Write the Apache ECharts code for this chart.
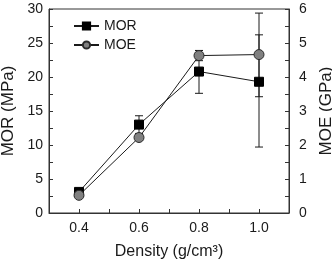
<!DOCTYPE html>
<html>
<head>
<meta charset="utf-8">
<script src="https://cdn.jsdelivr.net/npm/echarts@6/dist/echarts.min.js"></script>
<style>
  html, body { margin: 0; padding: 0; background: #fff; }
  #chart { width: 332px; height: 259px; }
</style>
</head>
<body>
<div id="chart"></div>
<script>
  // density (g/cm3)
  const density = [0.4, 0.6, 0.8, 1.0]
  // MOR (MPa) with error bar ends
  const mor = [3.1, 13.0, 20.8, 19.3]
  const morLow = [2.8, 11.7, 17.6, 9.7]
  const morHigh = [3.4, 14.3, 23.9, 29.4]
  // MOE (GPa) with error bar ends
  const moe = [0.52, 2.22, 4.63, 4.66]
  const moeLow = [0.47, 2.15, 4.48, 3.42]
  const moeHigh = [0.57, 2.29, 4.78, 5.24]
  const xLabels = ['0.4', '0.6', '0.8', '1.0']

  const font = 'Liberation Sans, Arial, sans-serif'
  const ink = '#1a1a1a'

  function pairs(xs, ys) {
    return xs.map((x, i) => [x, ys[i]])
  }
  function bars(xs, lo, hi) {
    return xs.map((x, i) => [x, lo[i], hi[i]])
  }

  // vertical error bar with caps
  function errorBar(params, api) {
    let x = api.value(0)
    let pLo = api.coord([x, api.value(1)])
    let pHi = api.coord([x, api.value(2)])
    let w = 4
    let style = { stroke: ink, lineWidth: 1 }
    return {
      type: 'group',
      children: [
        { type: 'line', shape: { x1: pLo[0], y1: pLo[1], x2: pHi[0], y2: pHi[1] }, style: style },
        { type: 'line', shape: { x1: pLo[0] - w, y1: pLo[1], x2: pLo[0] + w, y2: pLo[1] }, style: style },
        { type: 'line', shape: { x1: pHi[0] - w, y1: pHi[1], x2: pHi[0] + w, y2: pHi[1] }, style: style }
      ]
    }
  }

  let myChart = echarts.init(document.getElementById('chart'))
  myChart.setOption({
    animation: false,
    textStyle: { fontFamily: font, color: ink },
    grid: {
      left: 49,
      right: 43,
      top: 9,
      bottom: 46,
      outerBoundsMode: 'none',
      show: true,
      borderColor: '#333',
      borderWidth: 1
    },
    legend: {
      orient: 'vertical',
      left: 68,
      top: 14,
      itemWidth: 25,
      itemHeight: 9,
      itemGap: 5,
      textStyle: { fontSize: 14, color: ink, fontFamily: font },
      data: ['MOR', 'MOE']
    },
    xAxis: {
      type: 'value',
      min: 0.3,
      max: 1.1,
      interval: 0.1,
      name: 'Density (g/cm³)',
      nameLocation: 'middle',
      nameGap: 31,
      nameTextStyle: { fontSize: 16, color: ink },
      splitLine: { show: false },
      axisLine: { lineStyle: { color: '#333' } },
      axisTick: { inside: true, length: 4, lineStyle: { color: '#333' } },
      axisLabel: {
        fontSize: 14,
        color: ink,
        margin: 8,
        formatter: function(v) {
          let s = v.toFixed(1)
          return xLabels.indexOf(s) >= 0 ? s : ''
        }
      }
    },
    yAxis: [{
      type: 'value',
      min: 0,
      max: 30,
      interval: 5,
      name: 'MOR (MPa)',
      nameLocation: 'middle',
      nameGap: 26,
      nameTextStyle: { fontSize: 17, color: ink },
      splitLine: { show: false },
      axisLine: { show: true, lineStyle: { color: '#333' } },
      axisTick: { inside: true, length: 4, lineStyle: { color: '#333' } },
      minorTick: { show: true, splitNumber: 2, length: 4, lineStyle: { color: '#333' } },
      axisLabel: { fontSize: 14, color: ink, margin: 6 }
    }, {
      type: 'value',
      min: 0,
      max: 6,
      interval: 1,
      name: 'MOE (GPa)',
      nameLocation: 'middle',
      nameGap: 22,
      nameRotate: 90,
      nameTextStyle: { fontSize: 17, color: ink },
      position: 'right',
      splitLine: { show: false },
      axisLine: { show: true, lineStyle: { color: '#333' } },
      axisTick: { inside: true, length: 4, lineStyle: { color: '#333' } },
      minorTick: { show: true, splitNumber: 2, length: 4, lineStyle: { color: '#333' } },
      axisLabel: { fontSize: 14, color: ink, margin: 10 }
    }],
    series: [
      {
        type: 'custom',
        name: 'MOR err',
        yAxisIndex: 0,
        renderItem: errorBar,
        encode: { x: 0, y: [1, 2] },
        data: bars(density, morLow, morHigh),
        z: 1
      },
      {
        type: 'custom',
        name: 'MOE err',
        yAxisIndex: 1,
        renderItem: errorBar,
        encode: { x: 0, y: [1, 2] },
        data: bars(density, moeLow, moeHigh),
        z: 1
      },
      {
        type: 'line',
        name: 'MOR',
        yAxisIndex: 0,
        data: pairs(density, mor),
        symbol: 'rect',
        symbolSize: 9,
        itemStyle: { color: '#000', borderColor: '#000', borderWidth: 1 },
        lineStyle: { color: ink, width: 1 },
        z: 3
      },
      {
        type: 'line',
        name: 'MOE',
        yAxisIndex: 1,
        data: pairs(density, moe),
        symbol: 'circle',
        symbolSize: 10,
        itemStyle: { color: '#808080', borderColor: '#2a2a2a', borderWidth: 1 },
        lineStyle: { color: ink, width: 1 },
        z: 4
      }
    ]
  })
</script>
</body>
</html>
